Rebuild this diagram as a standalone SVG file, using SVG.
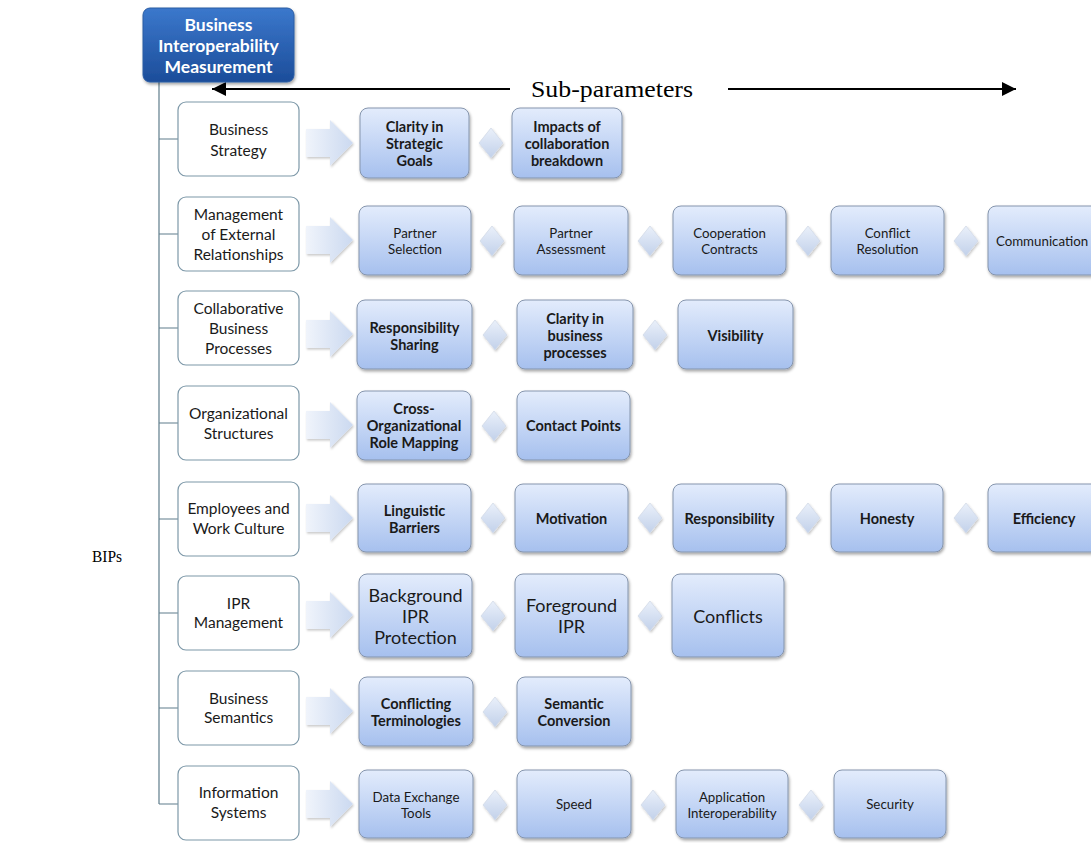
<svg xmlns="http://www.w3.org/2000/svg" width="1091" height="843" viewBox="0 0 1091 843">
<defs>
<linearGradient id="gBlue" x1="0" y1="0" x2="0" y2="1"><stop offset="0" stop-color="#e3ecfc"/><stop offset="1" stop-color="#a6c0ee"/></linearGradient>
<linearGradient id="gMain" x1="0" y1="0" x2="0" y2="1"><stop offset="0" stop-color="#3b78cc"/><stop offset="1" stop-color="#1c4d9a"/></linearGradient>
<linearGradient id="gArrow" x1="0" y1="0" x2="1" y2="0"><stop offset="0" stop-color="#f0f4fb"/><stop offset="1" stop-color="#cbd9f0"/></linearGradient>
<linearGradient id="gDia" x1="0" y1="0" x2="0" y2="1"><stop offset="0" stop-color="#eaf0fa"/><stop offset="1" stop-color="#c2d1ea"/></linearGradient>
<filter id="sh" x="-10%" y="-10%" width="125%" height="130%"><feDropShadow dx="1" dy="2" stdDeviation="1.5" flood-color="#000" flood-opacity="0.35"/></filter>
<filter id="sh2" x="-10%" y="-10%" width="125%" height="130%"><feDropShadow dx="1" dy="1.5" stdDeviation="1.2" flood-color="#000" flood-opacity="0.22"/></filter>
<marker id="ah" markerWidth="14" markerHeight="14" refX="14" refY="7" orient="auto" markerUnits="userSpaceOnUse"><path d="M0,0 L14,7 L0,14 Z" fill="#000"/></marker>
</defs>
<style>
.lb{fill:#fff;stroke:#7d98a8;stroke-width:1.2}
.bb{fill:url(#gBlue);stroke:#8595ad;stroke-width:1;filter:url(#sh)}
.ar{fill:url(#gArrow);filter:url(#sh2)}
.di{fill:url(#gDia);stroke:#d3dbe8;stroke-width:0.8;filter:url(#sh2)}
.t{font-family:Lato,"Liberation Sans",sans-serif;fill:#1a1a1a;text-anchor:middle;dominant-baseline:central}
.lt{font-size:15.5px}
.b13{font-size:14.5px;font-weight:bold}
.r12{font-size:13.3px}
.r16{font-size:18px}
.mt{font-family:Lato,"Liberation Sans",sans-serif;font-size:17.5px;font-weight:bold;fill:#fff;text-anchor:middle;dominant-baseline:central}
.conn{stroke:#5f7d8c;stroke-width:1.2;fill:none}
.sp{font-family:"Liberation Serif","Times New Roman",serif;fill:#000}
</style>

<g id="connectors">
<path class="conn" d="M159,82 V804 M159,139 H178 M159,234 H178 M159,328 H178 M159,423 H178 M159,519 H178 M159,613 H178 M159,708 H178 M159,804 H178"/>
<line x1="510" y1="89" x2="212" y2="89" stroke="#000" stroke-width="2" marker-end="url(#ah)"/>
<line x1="728" y1="89" x2="1016" y2="89" stroke="#000" stroke-width="2" marker-end="url(#ah)"/>
<g id="arrows">
<polygon class="ar" points="306,129 330,129 330,120 353,143 330,166 330,157 306,157"/>
<polygon class="ar" points="306,226 330,226 330,217 353,240 330,263 330,254 306,254"/>
<polygon class="ar" points="306,320 330,320 330,311 353,334 330,357 330,348 306,348"/>
<polygon class="ar" points="306,411 330,411 330,402 353,425 330,448 330,439 306,439"/>
<polygon class="ar" points="306,504 330,504 330,495 353,518 330,541 330,532 306,532"/>
<polygon class="ar" points="306,601 330,601 330,592 353,615 330,638 330,629 306,629"/>
<polygon class="ar" points="306,697 330,697 330,688 353,711 330,734 330,725 306,725"/>
<polygon class="ar" points="306,790 330,790 330,781 353,804 330,827 330,818 306,818"/>
</g>
<g id="diamonds">
<polygon class="di" points="491,128 503,143 491,158 479,143"/>
<polygon class="di" points="492,226 504,241 492,256 480,241"/>
<polygon class="di" points="650,226 662,241 650,256 638,241"/>
<polygon class="di" points="808,226 820,241 808,256 796,241"/>
<polygon class="di" points="966,226 978,241 966,256 954,241"/>
<polygon class="di" points="495,320 507,335 495,350 483,335"/>
<polygon class="di" points="655,320 667,335 655,350 643,335"/>
<polygon class="di" points="494,411 506,426 494,441 482,426"/>
<polygon class="di" points="493,503 505,518 493,533 481,518"/>
<polygon class="di" points="650,503 662,518 650,533 638,518"/>
<polygon class="di" points="808,503 820,518 808,533 796,518"/>
<polygon class="di" points="966,503 978,518 966,533 954,518"/>
<polygon class="di" points="493,601 505,616 493,631 481,616"/>
<polygon class="di" points="650,601 662,616 650,631 638,616"/>
<polygon class="di" points="495,697 507,712 495,727 483,712"/>
<polygon class="di" points="495,790 507,805 495,820 483,805"/>
<polygon class="di" points="653,790 665,805 653,820 641,805"/>
<polygon class="di" points="811,790 823,805 811,820 799,805"/>
</g>
</g>

<g id="main">
<rect x="143" y="8" width="151" height="74" rx="7" fill="url(#gMain)" stroke="#2b5ca3" filter="url(#sh)"/>
<text class="mt" x="218.5" y="24">Business</text>
<text class="mt" x="218.5" y="45">Interoperability</text>
<text class="mt" x="218.5" y="66">Measurement</text>
</g>

<text class="sp" x="531" y="97" font-size="23" textLength="162" lengthAdjust="spacingAndGlyphs">Sub-parameters</text>
<text class="sp" x="92" y="562" font-size="17" textLength="30" lengthAdjust="spacingAndGlyphs">BIPs</text>

<!-- Left parameter boxes -->
<g id="p1"><rect class="lb" x="178" y="102" width="121" height="74" rx="8"/><text class="t lt" x="238.5" y="129">Business</text><text class="t lt" x="238.5" y="150">Strategy</text></g>
<g id="p2"><rect class="lb" x="178" y="197" width="121" height="74" rx="8"/><text class="t lt" x="238.5" y="214">Management</text><text class="t lt" x="238.5" y="234">of External</text><text class="t lt" x="238.5" y="254">Relationships</text></g>
<g id="p3"><rect class="lb" x="178" y="291" width="121" height="74" rx="8"/><text class="t lt" x="238.5" y="308">Collaborative</text><text class="t lt" x="238.5" y="328">Business</text><text class="t lt" x="238.5" y="348">Processes</text></g>
<g id="p4"><rect class="lb" x="178" y="386" width="121" height="74" rx="8"/><text class="t lt" x="238.5" y="413">Organizational</text><text class="t lt" x="238.5" y="433">Structures</text></g>
<g id="p5"><rect class="lb" x="178" y="482" width="121" height="74" rx="8"/><text class="t lt" x="238.5" y="508">Employees and</text><text class="t lt" x="238.5" y="528">Work Culture</text></g>
<g id="p6"><rect class="lb" x="178" y="576" width="121" height="74" rx="8"/><text class="t lt" x="238.5" y="603">IPR</text><text class="t lt" x="238.5" y="622">Management</text></g>
<g id="p7"><rect class="lb" x="178" y="671" width="121" height="74" rx="8"/><text class="t lt" x="238.5" y="698">Business</text><text class="t lt" x="238.5" y="717">Semantics</text></g>
<g id="p8"><rect class="lb" x="178" y="766" width="121" height="74" rx="8"/><text class="t lt" x="238.5" y="792">Information</text><text class="t lt" x="238.5" y="812">Systems</text></g>

<!-- Row 1 -->
<g id="s1a"><rect class="bb" x="360" y="108" width="109" height="70" rx="8"/><text class="t b13" x="414.5" y="126">Clarity in</text><text class="t b13" x="414.5" y="143">Strategic</text><text class="t b13" x="414.5" y="160">Goals</text></g>
<g id="s1b"><rect class="bb" x="512" y="108" width="110" height="70" rx="8"/><text class="t b13" x="567" y="126">Impacts of</text><text class="t b13" x="567" y="143">collaboration</text><text class="t b13" x="567" y="160">breakdown</text></g>
<!-- Row 2 -->
<g id="s2a"><rect class="bb" x="359" y="206" width="112" height="69" rx="8"/><text class="t r12" x="415" y="233">Partner</text><text class="t r12" x="415" y="249">Selection</text></g>
<g id="s2b"><rect class="bb" x="514" y="206" width="114" height="69" rx="8"/><text class="t r12" x="571" y="233">Partner</text><text class="t r12" x="571" y="249">Assessment</text></g>
<g id="s2c"><rect class="bb" x="673" y="206" width="113" height="69" rx="8"/><text class="t r12" x="729.5" y="233">Cooperation</text><text class="t r12" x="729.5" y="249">Contracts</text></g>
<g id="s2d"><rect class="bb" x="831" y="206" width="113" height="69" rx="8"/><text class="t r12" x="887.5" y="233">Conflict</text><text class="t r12" x="887.5" y="249">Resolution</text></g>
<g id="s2e"><rect class="bb" x="988" y="206" width="112" height="69" rx="8"/><text class="t r12" x="1042" y="241">Communication</text></g>
<!-- Row 3 -->
<g id="s3a"><rect class="bb" x="357" y="300" width="115" height="69" rx="8"/><text class="t b13" x="414.5" y="327">Responsibility</text><text class="t b13" x="414.5" y="344">Sharing</text></g>
<g id="s3b"><rect class="bb" x="517" y="300" width="116" height="69" rx="8"/><text class="t b13" x="575" y="318">Clarity in</text><text class="t b13" x="575" y="335">business</text><text class="t b13" x="575" y="352">processes</text></g>
<g id="s3c"><rect class="bb" x="678" y="300" width="115" height="69" rx="8"/><text class="t b13" x="735.5" y="335">Visibility</text></g>
<!-- Row 4 -->
<g id="s4a"><rect class="bb" x="357" y="391" width="114" height="69" rx="8"/><text class="t b13" x="414" y="408">Cross-</text><text class="t b13" x="414" y="425">Organizational</text><text class="t b13" x="414" y="442">Role Mapping</text></g>
<g id="s4b"><rect class="bb" x="517" y="391" width="113" height="69" rx="8"/><text class="t b13" x="573.5" y="425">Contact Points</text></g>
<!-- Row 5 -->
<g id="s5a"><rect class="bb" x="358" y="484" width="113" height="68" rx="8"/><text class="t b13" x="414.5" y="510">Linguistic</text><text class="t b13" x="414.5" y="527">Barriers</text></g>
<g id="s5b"><rect class="bb" x="515" y="484" width="113" height="68" rx="8"/><text class="t b13" x="571.5" y="518">Motivation</text></g>
<g id="s5c"><rect class="bb" x="673" y="484" width="113" height="68" rx="8"/><text class="t b13" x="729.5" y="518">Responsibility</text></g>
<g id="s5d"><rect class="bb" x="831" y="484" width="112" height="68" rx="8"/><text class="t b13" x="887" y="518">Honesty</text></g>
<g id="s5e"><rect class="bb" x="988" y="484" width="112" height="68" rx="8"/><text class="t b13" x="1044" y="518">Efficiency</text></g>
<!-- Row 6 -->
<g id="s6a"><rect class="bb" x="359" y="574" width="113" height="83" rx="8"/><text class="t r16" x="415.5" y="595">Background</text><text class="t r16" x="415.5" y="616">IPR</text><text class="t r16" x="415.5" y="637">Protection</text></g>
<g id="s6b"><rect class="bb" x="515" y="574" width="113" height="83" rx="8"/><text class="t r16" x="571.5" y="605">Foreground</text><text class="t r16" x="571.5" y="626">IPR</text></g>
<g id="s6c"><rect class="bb" x="672" y="574" width="112" height="83" rx="8"/><text class="t r16" x="728" y="616">Conflicts</text></g>
<!-- Row 7 -->
<g id="s7a"><rect class="bb" x="359" y="677" width="114" height="69" rx="8"/><text class="t b13" x="416" y="703">Conflicting</text><text class="t b13" x="416" y="720">Terminologies</text></g>
<g id="s7b"><rect class="bb" x="517" y="677" width="114" height="69" rx="8"/><text class="t b13" x="574" y="703">Semantic</text><text class="t b13" x="574" y="720">Conversion</text></g>
<!-- Row 8 -->
<g id="s8a"><rect class="bb" x="359" y="770" width="114" height="68" rx="8"/><text class="t r12" x="416" y="797">Data Exchange</text><text class="t r12" x="416" y="813">Tools</text></g>
<g id="s8b"><rect class="bb" x="517" y="770" width="114" height="68" rx="8"/><text class="t r12" x="574" y="804">Speed</text></g>
<g id="s8c"><rect class="bb" x="676" y="770" width="112" height="68" rx="8"/><text class="t r12" x="732" y="797">Application</text><text class="t r12" x="732" y="813">Interoperability</text></g>
<g id="s8d"><rect class="bb" x="834" y="770" width="112" height="68" rx="8"/><text class="t r12" x="890" y="804">Security</text></g>
</svg>
